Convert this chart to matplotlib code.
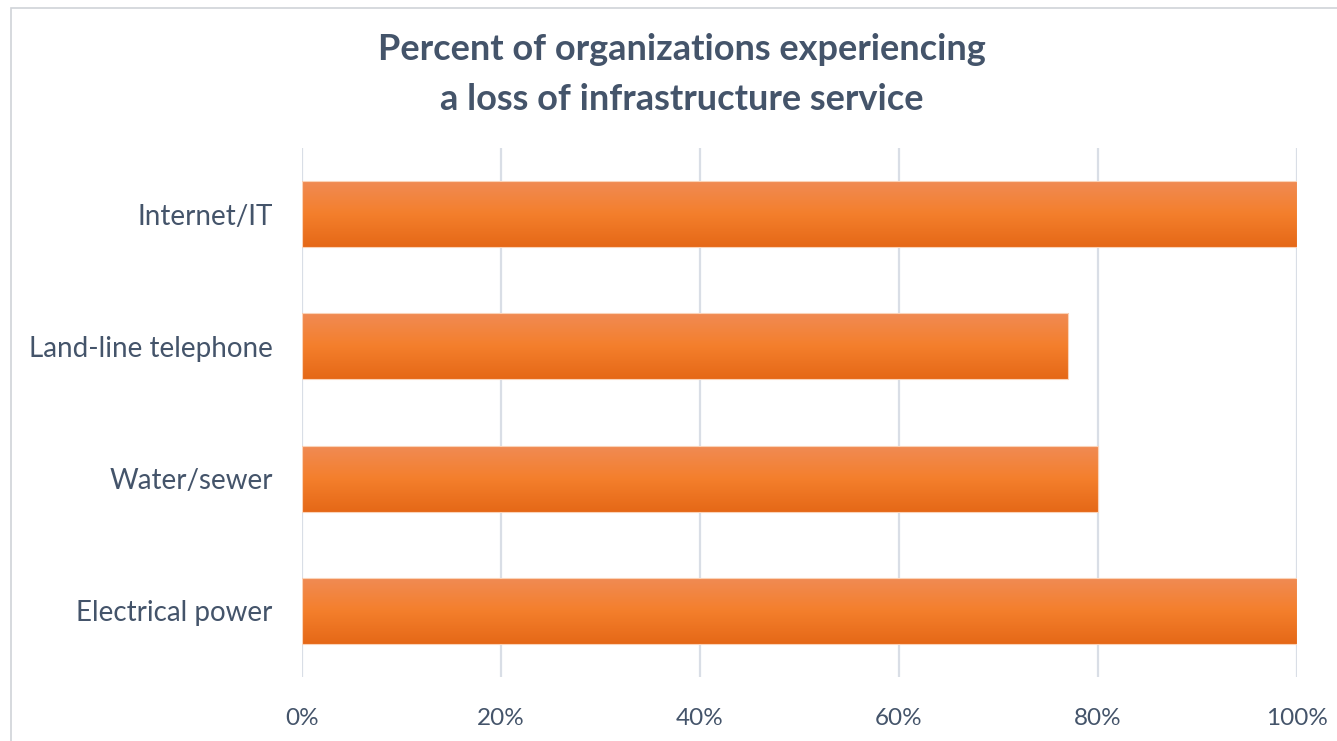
import numpy as np
import matplotlib.pyplot as plt
from matplotlib.colors import LinearSegmentedColormap
from matplotlib.patches import Rectangle

categories = ['Electrical power', 'Water/sewer', 'Land-line telephone', 'Internet/IT']
values = [1.00, 0.80, 0.77, 1.00]
ticks = [0, 0.2, 0.4, 0.6, 0.8, 1.0]
tick_labels = ['0%', '20%', '40%', '60%', '80%', '100%']

text_color = '#44546A'
grad = LinearSegmentedColormap.from_list('bar', ['#E56817', '#F47F2C', '#F08B55'])

plt.rcParams['font.family'] = ['Lato', 'DejaVu Sans']

fig = plt.figure(figsize=(13.37, 7.41), dpi=100)
W, H = 1337, 741
ax = fig.add_axes([302 / W, 1 - 677 / H, (1297 - 302) / W, (677 - 148) / H])

bar_h = 0.5
y = np.arange(len(categories))
bars = ax.barh(y, values, height=bar_h, color='none', edgecolor='#FAD3B8', linewidth=0.8, zorder=3)
gradient = np.linspace(0, 1, 256).reshape(-1, 1)
for b in bars:
    x0, y0 = b.get_x(), b.get_y()
    im = ax.imshow(gradient, cmap=grad, aspect='auto', origin='lower',
                   extent=[x0, x0 + b.get_width(), y0, y0 + b.get_height()], zorder=2)
    im.set_clip_path(b)

ax.set_xlim(0, 1.0)
ax.set_ylim(-0.5, len(categories) - 0.5)
ax.set_xticks(ticks)
ax.set_xticklabels(tick_labels)
ax.set_yticks(y)
ax.set_yticklabels(categories)
ax.tick_params(axis='both', length=0, colors=text_color)
ax.tick_params(axis='x', pad=22, labelsize=17.5)
ax.tick_params(axis='y', pad=21, labelsize=20)
ax.grid(axis='x', color='#D9DEE6', linewidth=1.6, zorder=0)
ax.set_axisbelow(True)
for s in ax.spines.values():
    s.set_visible(False)

fig.text(682 / W, 1 - 50 / H, 'Percent of organizations experiencing', ha='center', va='center',
         fontsize=26, fontweight='bold', color=text_color)
fig.text(682 / W, 1 - 99 / H, 'a loss of infrastructure service', ha='center', va='center',
         fontsize=26, fontweight='bold', color=text_color)

fig.patches.append(Rectangle((11 / W, -0.1), 1.2, 1 - 8 / H + 0.1, transform=fig.transFigure,
                             fill=False, edgecolor='#D0D3D8', linewidth=1.2))

fig.savefig('out.png', dpi=100)
